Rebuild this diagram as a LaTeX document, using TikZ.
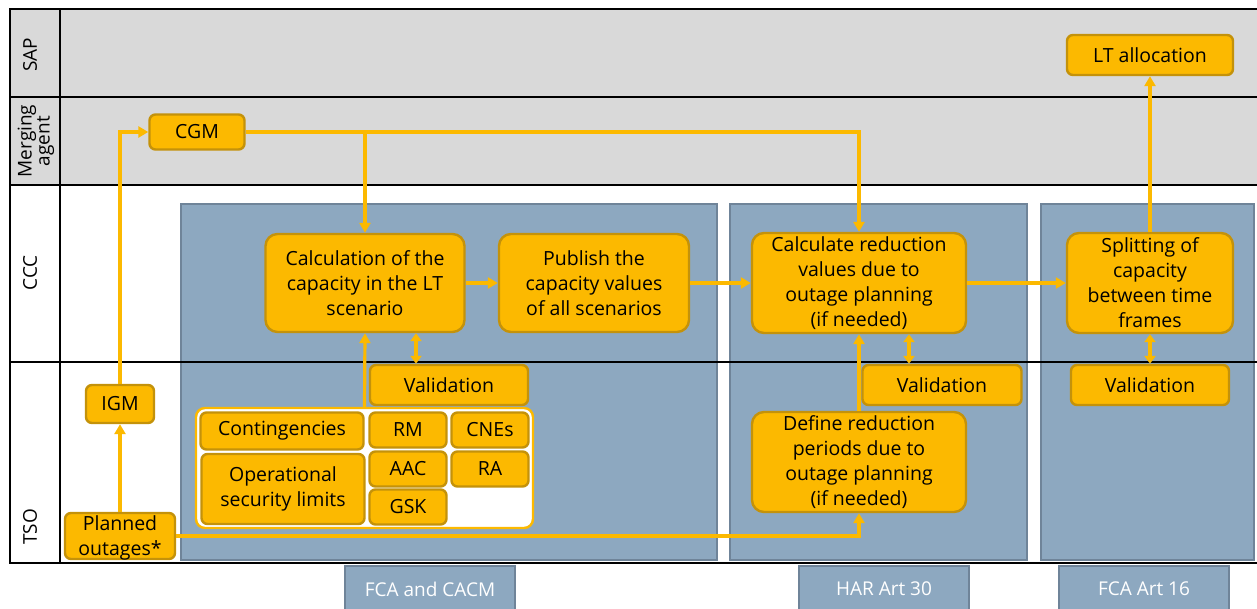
\documentclass[tikz,border=0pt]{standalone}
\usepackage{fontspec}
\setmainfont{Open Sans}
\usetikzlibrary{arrows.meta,positioning,calc}
\definecolor{lanegray}{HTML}{D9D9D9}
\definecolor{panelblue}{HTML}{8DA8C0}
\definecolor{paneledge}{HTML}{6F8499}
\definecolor{taskfill}{HTML}{FCB900}
\definecolor{taskedge}{HTML}{C4920A}
\definecolor{flowcol}{HTML}{FCB900}

\tikzset{
  laneline/.style={line width=2.8pt,black},
  panel/.style={fill=panelblue,draw=paneledge,line width=1.6pt},
  lanelabel/.style={rotate=90,font=\fontsize{19}{18}\selectfont,align=center},
  task/.style={draw=taskedge,fill=taskfill,line width=2.4pt,rounded corners=12pt,
    align=center,inner sep=0pt,font=\fontsize{19.5}{25}\selectfont},
  smalltask/.style={task,rounded corners=6pt},
  rule/.style={fill=panelblue,draw=paneledge,line width=1.6pt,text=white,
    font=\fontsize{19}{20}\selectfont,minimum width=170,minimum height=46,inner sep=0pt},
  flow/.style={draw=flowcol,line width=3.2pt,-{Triangle[length=10pt,width=11pt]}},
  twoway/.style={draw=flowcol,line width=3.2pt,{Triangle[length=8pt,width=11pt]}-{Triangle[length=8pt,width=11pt]}},
}

\begin{document}
\begin{tikzpicture}[x=1pt,y=-1pt]
	\useasboundingbox (0,0) rectangle (1257,608);
	
	% Lanes
	\fill[lanegray] (10,9) rectangle (1257,185);
	\fill[white] (10,185) rectangle (1257,563);
	
	% Regulation panels
	\draw[panel] (181,204) rectangle (717,560);
	\draw[panel] (730,204) rectangle (1027,560);
	\draw[panel] (1041,204) rectangle (1254,560);
	
	% Lane lines
	\draw[laneline] (1262,9) -- (10,9) -- (10,563) -- (1262,563);
	\draw[laneline] (10,97) -- (1262,97);
	\draw[laneline] (10,185) -- (1262,185);
	\draw[laneline] (10,362) -- (1262,362);
	\draw[laneline] (60,9) -- (60,563);
	
	\node[lanelabel] (sap) at (30,55) {SAP};
	\node[lanelabel] (ma) at (36,141) {Merging\\agent};
	\node[lanelabel] (ccc) at (30,273) {CCC};
	\node[lanelabel] (tso) at (30,527) {TSO};
	
	% Steps
	\node[smalltask,minimum width=166,minimum height=40] (lta) at (1150,55) {LT allocation};
	\node[smalltask,minimum width=95,minimum height=35] (cgm) at (197,132) {CGM};
	\node[task,minimum width=199,minimum height=98] (calc) at (365,283) {Calculation of the\\capacity in the LT\\scenario};
	\node[task,minimum width=190,minimum height=98] (pub) at (594,283) {Publish the\\capacity values\\of all scenarios};
	\node[task,minimum width=214,minimum height=100] (crv) at (859,283) {Calculate reduction\\values due to\\outage planning\\(if needed)};
	\node[task,minimum width=166,minimum height=100] (split) at (1150,283) {Splitting of\\capacity\\between time\\frames};
	\node[smalltask,minimum width=158,minimum height=40] (val1) at (449,385) {Validation};
	\node[smalltask,minimum width=159,minimum height=40] (val2) at (942,385) {Validation};
	\node[smalltask,minimum width=158,minimum height=40] (val3) at (1150,385) {Validation};
	\node[smalltask,minimum width=68,minimum height=38] (igm) at (120,404) {IGM};
	\node[smalltask,minimum width=110,minimum height=46,text depth=0pt] (po) at (120,536) {Planned\\outages*};
	\node[task,minimum width=214,minimum height=100] (drp) at (859,462) {Define reduction\\periods due to\\outage planning\\(if needed)};
	
	% Inputs
	\node[draw=flowcol,fill=white,line width=2.4pt,rounded corners=9pt,minimum width=337,minimum height=120,inner sep=0pt] (inputs) at (364.5,468) {};
	\node[smalltask,minimum width=163,minimum height=37] (cont) at (282,431) {Contingencies};
	\node[smalltask,minimum width=163,minimum height=70] (osl) at (283,489) {Operational\\security limits};
	\node[smalltask,minimum width=77,minimum height=35] (rm) at (408,430) {RM};
	\node[smalltask,minimum width=77,minimum height=35] (cne) at (490,430) {CNEs};
	\node[smalltask,minimum width=77,minimum height=35] (aac) at (408,469) {AAC};
	\node[smalltask,minimum width=77,minimum height=35] (ra) at (490,469) {RA};
	\node[smalltask,minimum width=77,minimum height=35] (gsk) at (408,507) {GSK};
	
	% Regulations
	\node[rule] (cacm) at (430,589) {FCA and CACM};
	\node[rule] (har) at (884,589) {HAR Art 30};
	\node[rule] (fca) at (1144,589) {FCA Art 16};
	
	% Flows
	\draw[flow] (po) -- (igm);
	\draw[flow] (igm.north) |- (cgm.west);
	\draw[flow] (cgm.east) -| (crv.north);
	\draw[flow] (cgm.east -| calc.north) -- (calc.north);
	\draw[flow] (calc) -- (pub);
	\draw[flow] (pub) -- (crv);
	\draw[flow] (crv) -- (split);
	\draw[flow] (split) -- (lta);
	\draw[flow] (inputs.north) -- (calc.south);
	\draw[flow] (drp) -- (crv);
	\draw[flow] (po.east) -| (drp.south);
	\draw[twoway] ([xshift=51]calc.south) -- ([xshift=51]calc.south |- val1.north);
	\draw[twoway] ([xshift=50]crv.south) -- ([xshift=50]crv.south |- val2.north);
	\draw[twoway] (split) -- (val3);
	
\end{tikzpicture}
\end{document}
